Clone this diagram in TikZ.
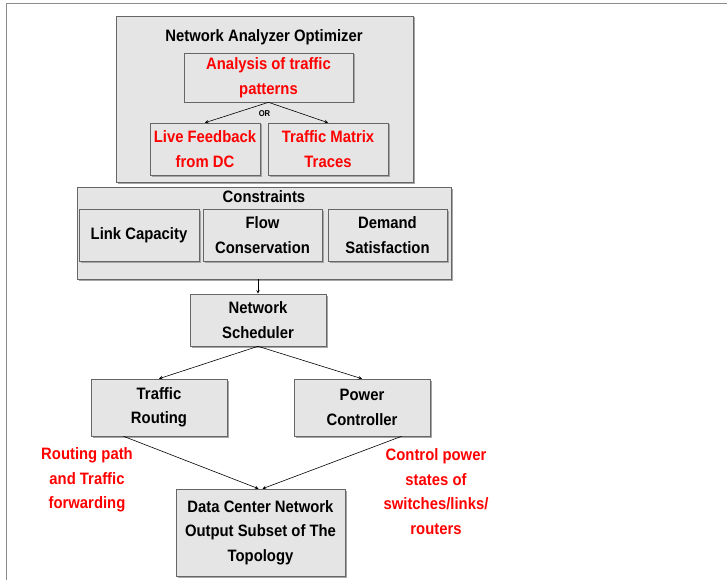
\documentclass[tikz,border=0pt]{standalone}
\usepackage{fontspec}
\setmainfont[FakeStretch=0.9]{Liberation Sans}
\usetikzlibrary{shadows,calc}
\tikzset{
  blk/.style={draw=black!60,fill=black!10,align=center,inner sep=0pt,
    font=\bfseries\fontsize{16.5}{24.5}\selectfont,
    drop shadow={shadow xshift=1.5pt,shadow yshift=-1.5pt,fill=black!35,opacity=1}},
  ttl/.style={align=center,inner sep=0pt,font=\bfseries\fontsize{16.5}{24.5}\selectfont},
  redtxt/.style={text=red}
}
\begin{document}
\begin{tikzpicture}[x=1pt,y=-1pt,semithick,>=stealth]
    \useasboundingbox (0,0) rectangle (727,580);
    \draw[black!45,line width=1pt](727,4)--(6,4)--(6,580);
    % analyzer part
    \node[blk,minimum width=297pt,minimum height=166pt](nao)at(264.5,99){};
    \node[ttl](naot)at(264,37){Network Analyzer Optimizer};
    \node[blk,redtxt,minimum width=169pt,minimum height=49pt](ana)at(268.5,77.5){Analysis of traffic\\patterns};
    \node[ttl,font=\bfseries\fontsize{8.5}{8.5}\selectfont](or)at(264.5,114){OR};
    \node[blk,redtxt,minimum width=110pt,minimum height=52pt](live)at(205,149){Live Feedback\\from DC};
    \node[blk,redtxt,minimum width=120pt,minimum height=52pt](tmx)at(328,149){Traffic Matrix\\Traces};
    \draw[->](ana.south)--(live.north);
    \draw[->](ana.south)--(tmx.north);
    % constraints
    \node[blk,minimum width=374pt,minimum height=92pt](con)at(264,233){};
    \node[ttl](cont)at(264,197){Constraints};
    \node[blk,minimum width=120pt,minimum height=52pt](link)at(139,235){Link Capacity};
    \node[blk,minimum width=119pt,minimum height=52pt](flow)at(262.5,235){Flow\\Conservation};
    \node[blk,minimum width=119pt,minimum height=52pt](dem)at(387.5,235){Demand\\Satisfaction};
    % scheduler and below
    \node[blk,minimum width=136pt,minimum height=52pt](sched)at(258,320){Network\\Scheduler};
    \node[blk,minimum width=136pt,minimum height=57pt](route)at(159,407.5){Traffic\\Routing};
    \node[blk,minimum width=136pt,minimum height=57pt](power)at(362,407.5){Power\\Controller};
    \node[blk,minimum width=169pt,minimum height=87pt](dc)at(260.5,532.5){Data Center Network\\Output Subset of The\\Topology};
    \node[ttl,redtxt](rlab)at(87,480){Routing path\\and Traffic\\forwarding};
    \node[ttl,redtxt](clab)at(436,491.5){Control power\\states of\\switches/links/\\routers};
    \draw[->](sched.north|-con.south)--(sched.north);
    \draw[->](sched.south)--(route.north);
    \draw[->](sched.south)--(power.north);
    \draw[->]($(route.south west)!.24!(route.south east)$)--([xshift=-2pt]dc.north);
    \draw[->]($(power.south west)!.79!(power.south east)$)--([xshift=2pt]dc.north);
\end{tikzpicture}
\end{document}
